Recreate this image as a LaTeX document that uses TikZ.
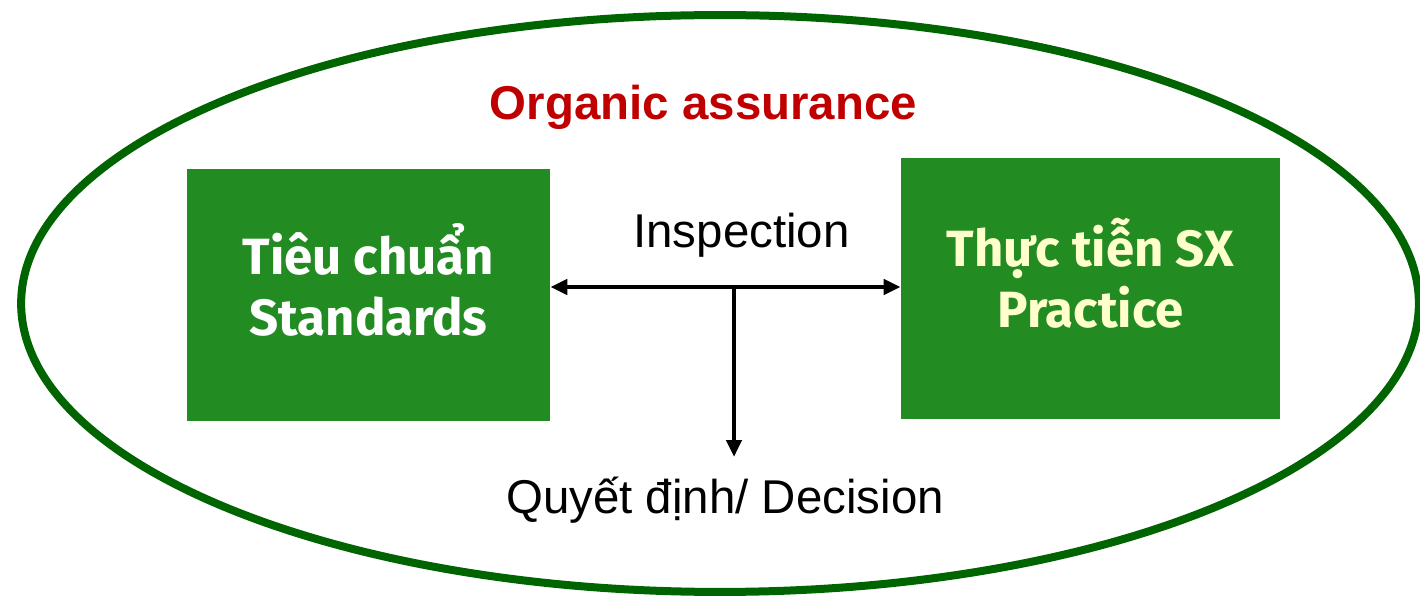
\documentclass[tikz,border=0pt]{standalone}
\usepackage{fontspec}
\setmainfont{Liberation Sans}
\newfontfamily\comicfont{Fira Sans}
\usetikzlibrary{arrows.meta}
\definecolor{boxgreen}{RGB}{34,139,34}
\definecolor{ringgreen}{RGB}{0,100,0}
\definecolor{titlered}{RGB}{192,0,0}
\definecolor{paleyellow}{RGB}{255,255,204}
\begin{document}
\begin{tikzpicture}[x=0.02cm,y=-0.02cm,>={Triangle[length=0.34cm,width=0.3cm]},
                    box node/.style={rectangle,fill=boxgreen,draw=none,align=center,text depth=0.62cm,font=\comicfont\bfseries\fontsize{29}{35}\selectfont},
                    plain text/.style={font=\fontsize{27}{32}\selectfont,anchor=base,inner sep=0pt},
                    link/.style={line width=0.09cm}]
                    \useasboundingbox (0,0) rectangle (1420,597);
                    \draw[ringgreen,line width=0.16cm] (720,303.5) ellipse [x radius=13.98cm,y radius=5.77cm];

                    \node[plain text,text=titlered,font=\bfseries\fontsize{27}{32}\selectfont] at (703.5,120) (title) {Organic assurance};
                    \node[box node,minimum width=7.26cm,minimum height=5.04cm,text=white] at (368.5,295) (std) {Tiêu chuẩn\\Standards};
                    \node[box node,minimum width=7.58cm,minimum height=5.22cm,text=paleyellow] at (1090.5,288.5) (prac) {Thực tiễn SX\\Practice};
                    \node[plain text] at (741.5,248) (insp) {Inspection};
                    \node[plain text] at (725,514) (dec) {Quyết định/ Decision};

                    \coordinate (tee) at (734,287);
                    \coordinate (tip) at (734,457);
                    \path[<->] (std.east |- tee) edge[link] (prac.west |- tee);
                    \path[->] (tee) edge[link] (tip);
                \end{tikzpicture}
\end{document}
